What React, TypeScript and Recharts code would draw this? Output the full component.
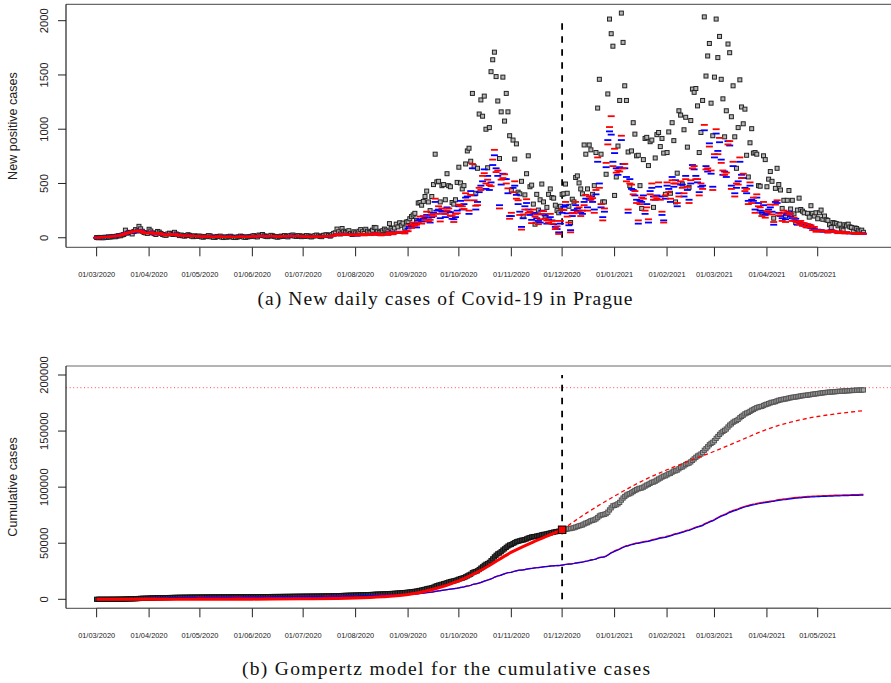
import React from "react";
import { ComposedChart, Scatter, Line, XAxis, YAxis, ReferenceLine } from "recharts";

// observed new positive cases per day (black squares), one array per month
const obsMar20 = [2, 0, 3, 1, 0, 5, 3, 8, 6, 10, 12, 9, 15, 20, 18, 25, 30, 70, 42, 50, 48, 35, 58, 75, 62, 105, 82, 60, 48, 45, 40];
const obsApr20 = [78, 62, 45, 38, 30, 58, 52, 40, 30, 25, 22, 35, 42, 38, 30, 50, 35, 28, 20, 25, 18, 15, 20, 28, 22, 15, 10, 18, 12, 14];
const obsMay20 = [15, 8, 5, 12, 10, 20, 18, 8, 4, 3, 12, 10, 15, 6, 2, 8, 5, 10, 14, 8, 3, 2, 6, 10, 15, 12, 5, 3, 8, 10, 12];
const obsJun20 = [15, 20, 10, 8, 25, 20, 30, 18, 12, 10, 15, 22, 18, 12, 8, 5, 10, 15, 12, 20, 14, 8, 18, 22, 25, 15, 12, 20, 18, 10];
const obsJul20 = [15, 12, 20, 18, 10, 8, 15, 20, 25, 18, 12, 10, 22, 25, 28, 20, 15, 30, 40, 45, 80, 55, 35, 85, 60, 50, 45, 65, 40, 30, 55];
const obsAug20 = [45, 35, 60, 75, 55, 40, 78, 60, 50, 45, 70, 95, 92, 60, 50, 45, 65, 80, 70, 55, 130, 85, 70, 90, 125, 100, 138, 115, 135, 90, 145];
const obsSep20 = [150, 175, 195, 210, 225, 160, 320, 325, 300, 335, 380, 430, 330, 250, 380, 490, 770, 515, 520, 330, 480, 490, 350, 590, 480, 470, 325, 310, 350, 510];
const obsOct20 = [650, 505, 450, 480, 680, 800, 825, 705, 1330, 655, 410, 640, 1140, 1270, 1120, 1305, 1000, 645, 1015, 1530, 1640, 1710, 1485, 1260, 730, 1160, 1480, 1075, 1330, 1160, 940];
const obsNov20 = [435, 900, 725, 865, 420, 405, 520, 195, 395, 590, 755, 470, 485, 310, 125, 400, 255, 350, 495, 330, 200, 280, 400, 450, 370, 365, 300, 250, 230, 290];
const obsDec20 = [400, 405, 495, 410, 290, 140, 355, 330, 555, 570, 505, 450, 405, 855, 770, 450, 855, 810, 400, 480, 785, 1195, 1460, 770, 330, 330, 585, 1325, 2015, 1880, 1765];
const obsJan21 = [390, 560, 845, 1265, 2070, 1800, 1400, 1265, 790, 480, 800, 1060, 955, 755, 760, 480, 270, 720, 915, 925, 665, 885, 900, 280, 735, 950, 970, 840, 915, 780, 400];
const obsFeb21 = [785, 975, 410, 1060, 895, 330, 595, 1170, 1130, 495, 995, 1110, 835, 465, 1080, 1370, 1340, 1375, 1215, 785, 970, 1265, 2035, 1490, 1675, 1790, 1240, 940];
const obsMar21 = [1480, 2015, 1660, 1855, 1460, 1280, 930, 1170, 1785, 1705, 1115, 1400, 930, 640, 1015, 1455, 1205, 1050, 1185, 760, 560, 875, 1005, 780, 785, 770, 480, 475, 230, 755, 720];
const obsApr21 = [470, 540, 610, 520, 180, 455, 640, 490, 440, 270, 345, 200, 345, 435, 265, 345, 220, 140, 255, 365, 260, 245, 230, 110, 225, 190, 295, 225, 200, 230];
const obsMay21 = [175, 230, 255, 170, 200, 165, 160, 120, 95, 140, 135, 130, 110, 125, 80, 70, 120, 110, 125, 100, 95, 60, 90, 85, 70, 60, 70, 50];

// first model estimate (blue dashes)
const blueMar20 = [0, 3, 2, 5, 4, 8, 6, 10, 12, 9, 15, 18, 14, 22, 25, 30, 28, 45, 40, 52, 55, 48, 50, 62, 58, 70, 65, 52, 48, 45, 42];
const blueApr20 = [48, 55, 40, 35, 30, 45, 42, 38, 32, 28, 25, 30, 35, 32, 28, 38, 30, 25, 22, 24, 20, 18, 20, 24, 22, 18, 15, 18, 16, 15];
const blueMay20 = [14, 12, 10, 12, 11, 15, 14, 10, 8, 8, 11, 12, 13, 9, 7, 9, 8, 11, 12, 10, 7, 6, 8, 11, 13, 12, 9, 7, 9, 10, 12];
const blueJun20 = [13, 15, 12, 11, 18, 17, 20, 16, 13, 12, 14, 17, 16, 13, 11, 9, 11, 14, 13, 16, 14, 11, 15, 18, 20, 16, 14, 17, 16, 13];
const blueJul20 = [10, 9, 12, 12, 8, 7, 10, 12, 14, 11, 9, 8, 12, 14, 15, 13, 11, 16, 20, 24, 36, 30, 24, 38, 32, 28, 27, 33, 26, 23, 30];
const blueAug20 = [25, 20, 30, 35, 28, 24, 35, 30, 26, 25, 32, 40, 40, 30, 26, 24, 32, 36, 34, 28, 52, 40, 34, 42, 50, 44, 56, 48, 54, 42, 60];
const blueSep20 = [85, 100, 110, 120, 130, 95, 160, 170, 150, 175, 190, 210, 170, 140, 190, 230, 330, 250, 260, 180, 240, 250, 190, 280, 240, 235, 175, 170, 190, 250];
const blueOct20 = [290, 340, 260, 310, 370, 380, 220, 430, 640, 390, 260, 330, 420, 480, 520, 630, 450, 570, 440, 510, 670, 760, 640, 570, 300, 490, 590, 540, 540, 410, 200];
const blueNov20 = [200, 460, 480, 395, 310, 240, 100, 180, 290, 320, 260, 210, 165, 230, 225, 180, 155, 140, 250, 215, 205, 130, 170, 190, 160, 125, 100, 80, 50, 130];
const blueDec20 = [230, 285, 300, 225, 115, 70, 200, 255, 300, 270, 250, 230, 220, 330, 360, 280, 350, 380, 330, 260, 400, 700, 500, 280, 190, 240, 650, 900, 980, 950, 700];
const blueJan21 = [780, 640, 580, 650, 900, 680, 640, 560, 230, 540, 450, 440, 390, 350, 130, 340, 330, 390, 220, 310, 140, 430, 460, 380, 350, 390, 470, 380, 210, 160, 360];
const blueFeb21 = [480, 450, 330, 560, 470, 530, 290, 410, 490, 490, 380, 570, 440, 350, 500, 670, 630, 570, 510, 420, 470, 480, 990, 660, 610, 870, 590, 470];
const blueMar21 = [740, 960, 800, 880, 720, 580, 610, 560, 890, 850, 480, 660, 410, 460, 520, 700, 580, 550, 460, 410, 340, 480, 350, 340, 260, 370, 320, 250, 230, 300, 210];
const blueApr21 = [220, 260, 280, 240, 120, 330, 320, 230, 200, 180, 225, 170, 210, 240, 195, 180, 160, 175, 120, 150, 130, 135, 110, 125, 100, 120, 90, 95, 80, 70];
const blueMay21 = [75, 60, 70, 55, 65, 60, 50, 55, 70, 62, 58, 50, 45, 55, 50, 48, 42, 50, 45, 40, 45, 40, 38, 42, 40, 35, 42, 38];

// second model estimate (red dashes)
const redMar20 = [0, 2, 3, 4, 6, 7, 8, 9, 10, 12, 13, 15, 18, 20, 22, 28, 32, 38, 45, 48, 50, 55, 60, 58, 65, 68, 60, 55, 45, 42, 40];
const redApr20 = [45, 52, 42, 38, 32, 40, 45, 36, 30, 30, 22, 28, 32, 35, 26, 35, 32, 22, 20, 22, 22, 16, 18, 22, 20, 20, 14, 16, 15, 13];
const redMay20 = [12, 13, 9, 10, 12, 14, 12, 9, 9, 7, 10, 13, 12, 10, 8, 8, 9, 10, 11, 9, 8, 7, 7, 10, 12, 13, 8, 8, 8, 11, 11];
const redJun20 = [12, 14, 13, 10, 16, 18, 19, 15, 12, 13, 13, 16, 15, 14, 10, 10, 10, 13, 14, 15, 13, 12, 14, 17, 19, 17, 13, 16, 15, 12];
const redJul20 = [11, 10, 11, 13, 9, 8, 9, 13, 13, 12, 10, 9, 11, 15, 14, 14, 12, 15, 22, 22, 34, 32, 26, 36, 33, 27, 29, 31, 27, 22, 32];
const redAug20 = [27, 22, 28, 36, 30, 22, 36, 28, 28, 24, 34, 38, 42, 28, 27, 22, 34, 34, 35, 27, 50, 42, 32, 44, 48, 45, 54, 50, 52, 40, 62];
const redSep20 = [60, 120, 90, 140, 110, 120, 140, 195, 130, 200, 165, 240, 150, 165, 215, 200, 360, 220, 290, 150, 270, 220, 220, 250, 270, 205, 200, 145, 220, 225];
const redOct20 = [305, 295, 290, 265, 410, 345, 250, 395, 680, 345, 295, 300, 460, 440, 570, 595, 500, 535, 485, 475, 720, 810, 605, 620, 270, 535, 550, 585, 500, 455, 175];
const redNov20 = [230, 420, 520, 360, 345, 210, 75, 215, 260, 355, 230, 240, 135, 260, 195, 215, 125, 170, 220, 245, 175, 160, 140, 220, 130, 155, 80, 105, 35, 155];
const redDec20 = [260, 255, 330, 195, 140, 50, 230, 225, 330, 240, 280, 200, 250, 300, 395, 250, 380, 350, 365, 230, 440, 740, 460, 310, 160, 270, 690, 860, 1020, 1120, 660];
const redJan21 = [820, 600, 620, 610, 940, 640, 680, 520, 260, 500, 490, 400, 430, 320, 160, 310, 370, 360, 250, 280, 170, 400, 500, 350, 380, 360, 510, 350, 240, 140, 390];
const redFeb21 = [510, 420, 360, 530, 500, 500, 320, 380, 520, 460, 410, 540, 470, 320, 530, 640, 660, 540, 540, 390, 500, 450, 1040, 630, 640, 840, 620, 440];
const redMar21 = [770, 1000, 770, 920, 690, 620, 580, 600, 860, 890, 450, 700, 380, 500, 490, 740, 550, 590, 430, 450, 310, 510, 320, 370, 230, 400, 290, 280, 200, 330, 185];
const redApr21 = [245, 235, 305, 215, 145, 305, 345, 205, 225, 155, 250, 145, 235, 215, 220, 155, 185, 150, 145, 125, 155, 110, 135, 100, 125, 95, 115, 70, 100, 55];
const redMay21 = [70, 65, 65, 60, 60, 65, 48, 58, 65, 66, 55, 52, 42, 58, 48, 50, 40, 52, 42, 42, 43, 42, 36, 44, 38, 37, 40, 36];

const observed = [...obsMar20, ...obsApr20, ...obsMay20, ...obsJun20, ...obsJul20, ...obsAug20, ...obsSep20, ...obsOct20,
  ...obsNov20, ...obsDec20, ...obsJan21, ...obsFeb21, ...obsMar21, ...obsApr21, ...obsMay21];
const modelBlue = [...blueMar20, ...blueApr20, ...blueMay20, ...blueJun20, ...blueJul20, ...blueAug20, ...blueSep20, ...blueOct20,
  ...blueNov20, ...blueDec20, ...blueJan21, ...blueFeb21, ...blueMar21, ...blueApr21, ...blueMay21];
const modelRed = [...redMar20, ...redApr20, ...redMay20, ...redJun20, ...redJul20, ...redAug20, ...redSep20, ...redOct20,
  ...redNov20, ...redDec20, ...redJan21, ...redFeb21, ...redMar21, ...redApr21, ...redMay21];

// Gompertz curve: fitted part up to 01/12/2020, then the forecast
const fitDays = [0, 31, 61, 92, 122, 153, 169, 184, 199, 214, 229, 245, 260, 275];
const fitCases = [0, 20, 60, 150, 400, 1100, 2200, 4200, 9000, 16500, 27500, 42000, 52500, 62000];
const forecastDays = [275, 290, 306, 321, 337, 352, 365, 380, 396, 410, 426, 440, 453];
const forecastCases = [62000, 77500, 92000, 104500, 115500, 124500, 132000, 141500, 151500, 158000, 163000, 166000, 168200];
const asymptote = 188700;

const tickLabels = ["01/03/2020", "01/04/2020", "01/05/2020", "01/06/2020", "01/07/2020", "01/08/2020", "01/09/2020",
  "01/10/2020", "01/11/2020", "01/12/2020", "01/01/2021", "01/02/2021", "01/03/2021", "01/04/2021", "01/05/2021"];
const dailyTicks = [0, 500, 1000, 1500, 2000];
const cumTicks = [0, 50000, 100000, 150000, 200000];

const start = Date.UTC(2020, 2, 1);
const dayOf = (s: string) => {
  const [d, m, y] = s.split("/").map(Number);
  return Math.round((Date.UTC(y, m - 1, d) - start) / 864e5);
};
const tickDays = tickLabels.map(dayOf);
const labelByDay = new Map(tickDays.map((d, i) => [d, tickLabels[i]]));
const cutDay = dayOf("01/12/2020");

const pts = (vals: number[]) => vals.map((y, x) => ({ x, y }));
const cumsum = (vals: number[]) => {
  let s = 0;
  return vals.map((v) => (s += v));
};

const obsPts = pts(observed);
const bluePts = pts(modelBlue);
const redPts = pts(modelRed);
const obsCum = pts(cumsum(observed));
const obsCumBefore = obsCum.filter((p) => p.x <= cutDay);
const obsCumAfter = obsCum.filter((p) => p.x > cutDay);
const blueCum = pts(cumsum(modelBlue));
const redCum = pts(cumsum(modelRed));
const fitPts = fitDays.map((x, i) => ({ x, y: fitCases[i] }));
const forecastPts = forecastDays.map((x, i) => ({ x, y: forecastCases[i] }));
const cutPoint = [{ x: cutDay, y: fitCases[fitCases.length - 1] }];

const W = 891;
const H = 683;
const XDOM: [number, number] = [-18.1, 469.3];
const Y1DOM: [number, number] = [-88, 2151];
const Y2DOM: [number, number] = [-8025, 208026];
const SANS = "'Liberation Sans', Arial, sans-serif";
const SERIF = "'Liberation Serif', serif";
const BOX = "#6a6a6a";
const INK = "#222";

function XTick({ x, y, payload }: any) {
  return (
    <g>
      <line x1={x} x2={x} y1={y} y2={y + 9} stroke={INK} strokeWidth={1} />
      <text x={x} y={y + 27} textAnchor="middle" dominantBaseline="central" fontSize={7.4} fill={INK} fontFamily={SANS}>
        {labelByDay.get(payload.value)}
      </text>
    </g>
  );
}

function YTick({ x, y, payload }: any) {
  const tx = x - 22;
  return (
    <g>
      <line x1={x - 8} x2={x} y1={y} y2={y} stroke={INK} strokeWidth={1} />
      <text x={tx} y={y} transform={`rotate(-90 ${tx} ${y})`} textAnchor="middle" dominantBaseline="central"
        fontSize={11.3} fill={INK} fontFamily={SANS}>
        {payload.value}
      </text>
    </g>
  );
}

const square = (size: number, fill: string, stroke: string) => (p: any) =>
  <rect x={p.cx - size / 2} y={p.cy - size / 2} width={size} height={size} fill={fill} stroke={stroke} strokeWidth={1} />;
const dash = (color: string) => (p: any) =>
  <rect x={p.cx - 3.5} y={p.cy - 0.9} width={7} height={1.8} fill={color} />;

function DailyChart() {
  return (
    <ComposedChart width={W} height={H} margin={{ top: 4.3, right: 0, bottom: 405.7, left: 0 }}>
      <XAxis dataKey="x" type="number" domain={XDOM} allowDataOverflow ticks={tickDays} interval={0}
        tickSize={0} tickMargin={0} height={30} tick={<XTick />} axisLine={{ stroke: BOX, strokeWidth: 1.2 }} tickLine={false} />
      <YAxis dataKey="y" type="number" domain={Y1DOM} allowDataOverflow ticks={dailyTicks} interval={0}
        tickSize={0} tickMargin={0} width={66} tick={<YTick />} axisLine={{ stroke: INK, strokeWidth: 1.2 }} tickLine={false} />
      <ReferenceLine y={Y1DOM[1]} stroke={BOX} strokeWidth={1.2} />
      <ReferenceLine segment={[{ x: 0, y: Y1DOM[0] }, { x: 426, y: Y1DOM[0] }]} stroke={INK} strokeWidth={1.2} />
      <ReferenceLine segment={[{ x: cutDay, y: 0 }, { x: cutDay, y: 2000 }]} stroke="#000" strokeWidth={1.8} strokeDasharray="6.5 6.5" />
      <Scatter data={obsPts} dataKey="y" shape={square(4, "#b5b5b5", "#222")} isAnimationActive={false} />
      <Scatter data={bluePts} dataKey="y" shape={dash("#0000ff")} isAnimationActive={false} />
      <Scatter data={redPts} dataKey="y" shape={dash("#ff0000")} isAnimationActive={false} />
    </ComposedChart>
  );
}

function CumulativeChart() {
  return (
    <ComposedChart width={W} height={H} margin={{ top: 366, right: 0, bottom: 44.7, left: 0 }}>
      <XAxis dataKey="x" type="number" domain={XDOM} allowDataOverflow ticks={tickDays} interval={0}
        tickSize={0} tickMargin={0} height={30} tick={<XTick />} axisLine={{ stroke: BOX, strokeWidth: 1.2 }} tickLine={false} />
      <YAxis dataKey="y" type="number" domain={Y2DOM} allowDataOverflow ticks={cumTicks} interval={0}
        tickSize={0} tickMargin={0} width={66} tick={<YTick />} axisLine={{ stroke: INK, strokeWidth: 1.2 }} tickLine={false} />
      <ReferenceLine y={Y2DOM[1]} stroke={BOX} strokeWidth={1.2} />
      <ReferenceLine segment={[{ x: 0, y: Y2DOM[0] }, { x: 426, y: Y2DOM[0] }]} stroke={INK} strokeWidth={1.2} />
      <ReferenceLine y={asymptote} stroke="#ff4d4d" strokeWidth={1} strokeDasharray="1 2.6" />
      <ReferenceLine segment={[{ x: cutDay, y: 0 }, { x: cutDay, y: 200000 }]} stroke="#000" strokeWidth={1.8} strokeDasharray="6.5 6.5" />
      <Scatter data={obsCumBefore} dataKey="y" shape={square(4.2, "#444", "#111")} isAnimationActive={false} zIndex={400} />
      <Scatter data={obsCumAfter} dataKey="y" shape={square(4.2, "#a8a8a8", "#555")} isAnimationActive={false} zIndex={400} />
      <Line data={redCum} dataKey="y" type="linear" dot={false} stroke="#ff0000" strokeWidth={1.4} isAnimationActive={false} zIndex={700} />
      <Line data={blueCum} dataKey="y" type="linear" dot={false} stroke="#0000ff" strokeWidth={1.2} isAnimationActive={false} zIndex={710} />
      <Line data={forecastPts} dataKey="y" type="monotone" dot={false} stroke="#ff0000" strokeWidth={1.3} strokeDasharray="4 3" isAnimationActive={false} zIndex={720} />
      <Line data={fitPts} dataKey="y" type="monotone" dot={false} stroke="#ff0000" strokeWidth={3} isAnimationActive={false} zIndex={730} />
      <Scatter data={cutPoint} dataKey="y" shape={square(7.5, "#ff0000", "#000")} isAnimationActive={false} zIndex={800} />
    </ComposedChart>
  );
}

function Labels() {
  return (
    <svg width={W} height={H} style={{ position: "absolute", left: 0, top: 0, pointerEvents: "none" }}>
      <text x={12.8} y={126} transform="rotate(-90 12.8 126)" textAnchor="middle" dominantBaseline="central" fontSize={12.6} fill={INK} fontFamily={SANS}>
        New positive cases
      </text>
      <text x={12.8} y={487} transform="rotate(-90 12.8 487)" textAnchor="middle" dominantBaseline="central" fontSize={12.6} fill={INK} fontFamily={SANS}>
        Cumulative cases
      </text>
      <text x={445} y={298} textAnchor="middle" dominantBaseline="central" fontSize={19.5} fill="#111" fontFamily={SERIF}
        textLength={375} lengthAdjust="spacing">
        (a) New daily cases of Covid-19 in Prague
      </text>
      <text x={446} y={668} textAnchor="middle" dominantBaseline="central" fontSize={19.5} fill="#111" fontFamily={SERIF}
        textLength={408} lengthAdjust="spacing">
        (b) Gompertz model for the cumulative cases
      </text>
    </svg>
  );
}

export default function App() {
  return (
    <div style={{ position: "absolute", left: 0, top: 0, width: W, height: H, background: "#fff", overflow: "hidden" }}>
      <div style={{ position: "absolute", left: 0, top: 0 }}>
        <DailyChart />
      </div>
      <div style={{ position: "absolute", left: 0, top: 0 }}>
        <CumulativeChart />
      </div>
      <Labels />
    </div>
  );
}
